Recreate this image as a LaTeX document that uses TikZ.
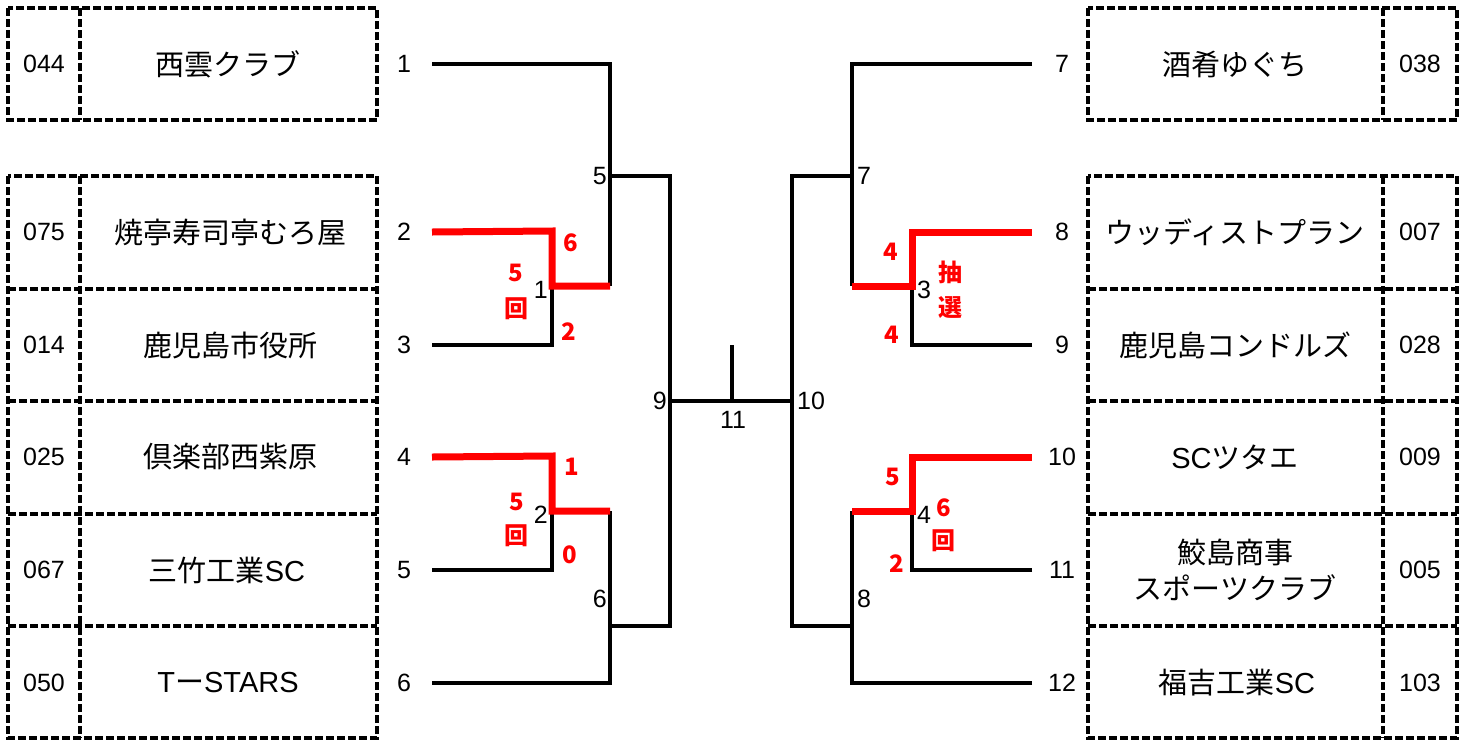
\documentclass[tikz,border=0pt]{standalone}
\usepackage{fontspec}
\setmainfont{Liberation Sans}
\newfontfamily\jp{Noto Sans CJK JP}
\definecolor{winred}{RGB}{255,0,0}
\begin{document}
\begin{tikzpicture}[x=1pt,y=-1pt,
  box/.style={draw, line width=3.1pt, dash pattern=on 8pt off 3pt},
  wire/.style={line width=3.2pt, line join=miter},
  win/.style={line width=7pt, winred, line join=miter},
  teamname/.style={font=\jp\fontsize{29}{34}\selectfont, align=center, inner sep=0pt},
  code/.style={font=\fontsize{25}{28}\selectfont, inner sep=0pt},
  seed/.style={font=\fontsize{25}{28}\selectfont, inner sep=0pt},
  mnum/.style={font=\fontsize{25}{28}\selectfont, inner sep=0pt},
  score/.style={font=\jp\bfseries\fontsize{24}{27}\selectfont, text=winred, inner sep=0pt},
]
\useasboundingbox (0,0) rectangle (1467,740);
% ---------- left boxes ----------
\draw[box] (8,8) rectangle (377,120) (80,8) -- (80,120);
\draw[box] (8,176) rectangle (377,738) (80,176) -- (80,738)
  (8,289) -- (377,289) (8,401) -- (377,401) (8,514) -- (377,514) (8,626) -- (377,626);
% ---------- right boxes ----------
\draw[box] (1088,8) rectangle (1457,120) (1383,8) -- (1383,120);
\draw[box] (1088,176) rectangle (1457,738) (1383,176) -- (1383,738)
  (1088,289) -- (1457,289) (1088,401) -- (1457,401) (1088,514) -- (1457,514) (1088,626) -- (1457,626);
% ---------- left texts ----------
\node[code] (c1) at (44,64) {044};
\node[code] (c2) at (44,232) {075};
\node[code] (c3) at (44,345) {014};
\node[code] (c4) at (44,457) {025};
\node[code] (c5) at (44,570) {067};
\node[code] (c6) at (44,683) {050};
\node[teamname] (t1) at (228,64) {西雲クラブ};
\node[teamname] (t2) at (230,232) {焼亭寿司亭むろ屋};
\node[teamname] (t3) at (230,345) {鹿児島市役所};
\node[teamname] (t4) at (230,457) {倶楽部西紫原};
\node[teamname] (t5) at (227,570) {三竹工業{\rmfamily SC}};
\node[teamname] (t6) at (228,683) {{\rmfamily T}ー{\rmfamily STARS}};
\node[seed] (s1) at (404,64) {1};
\node[seed] (s2) at (404,232) {2};
\node[seed] (s3) at (404,345) {3};
\node[seed] (s4) at (404,457) {4};
\node[seed] (s5) at (404,570) {5};
\node[seed] (s6) at (404,683) {6};
% ---------- right texts ----------
\node[code] (c7) at (1420,64) {038};
\node[code] (c8) at (1420,232) {007};
\node[code] (c9) at (1420,345) {028};
\node[code] (c10) at (1420,457) {009};
\node[code] (c11) at (1420,570) {005};
\node[code] (c12) at (1420,683) {103};
\node[teamname] (t7) at (1235,64) {酒肴ゆぐち};
\node[teamname] (t8) at (1235,232) {ウッディストプラン};
\node[teamname] (t9) at (1235,345) {鹿児島コンドルズ};
\node[teamname] (t10) at (1235,457) {{\rmfamily SC}ツタエ};
\node[teamname, font=\jp\fontsize{29}{36}\selectfont] (t11) at (1235,570) {鮫島商事\\スポーツクラブ};
\node[teamname] (t12) at (1237,683) {福吉工業{\rmfamily SC}};
\node[seed] (s7) at (1062,64) {7};
\node[seed] (s8) at (1062,232) {8};
\node[seed] (s9) at (1062,345) {9};
\node[seed] (s10) at (1062,457) {10};
\node[seed] (s11) at (1062,570) {11};
\node[seed] (s12) at (1062,683) {12};
% ---------- bracket coordinates ----------
\coordinate (L1) at (432,64);
\coordinate (L2) at (432,232);
\coordinate (L3) at (432,345);
\coordinate (L4) at (432,457);
\coordinate (L5) at (432,570);
\coordinate (L6) at (432,683);
\coordinate (R7) at (1032,64);
\coordinate (R8) at (1032,232);
\coordinate (R9) at (1032,345);
\coordinate (R10) at (1032,457);
\coordinate (R11) at (1032,570);
\coordinate (R12) at (1032,683);
\coordinate (m1) at (552,286);
\coordinate (m2) at (552,511);
\coordinate (m3) at (912,286);
\coordinate (m4) at (912,511);
\coordinate (m5) at (610,176);
\coordinate (m6) at (610,626);
\coordinate (m7) at (852,176);
\coordinate (m8) at (852,626);
\coordinate (m9) at (670,401);
\coordinate (m10) at (792,401);
\coordinate (m11) at (732,401);
\coordinate (top11) at (732,345);
% ---------- left bracket ----------
\draw[wire] (L3) -| (m1);
\draw[wire] (L1) -| (610,286);
\draw[wire] (L5) -| (m2);
\draw[wire] (L6) -| (610,511);
\draw[wire] (m5) -- (670,176) -- (670,626) -- (m6);
\draw[wire] (m9) -- (m10);
\draw[wire] (m11) -- (top11);
\draw[wire] (m7) -- (792,176) -- (792,626) -- (m8);
% ---------- right bracket ----------
\draw[wire] (R7) -| (852,286);
\draw[wire] (R9) -| (m3);
\draw[wire] (R12) -| (852,511);
\draw[wire] (R11) -| (m4);
% ---------- winners ----------
\draw[win] (L2) -- (552,231) -- (552,286) -- (610,286);
\draw[win] (L4) -- (552,456) -- (552,511) -- (610,511);
\draw[win] (852,286) -- (m3) -- (912,232) -- (R8);
\draw[win] (852,511) -- (m4) -- (912,457) -- (R10);
% ---------- match numbers ----------
\node[mnum, anchor=east] (n5) at (607,176) {5};
\node[mnum, anchor=east] (n1) at (548,290) {1};
\node[mnum, anchor=east] (n2) at (548,515) {2};
\node[mnum, anchor=east] (n6) at (607,599) {6};
\node[mnum, anchor=east] (n9) at (667,401) {9};
\node[mnum] (n11) at (733,420) {11};
\node[mnum, anchor=west] (n10) at (797,401) {10};
\node[mnum, anchor=west] (n7) at (857,176) {7};
\node[mnum, anchor=west] (n3) at (917,290) {3};
\node[mnum, anchor=west] (n4) at (917,515) {4};
\node[mnum, anchor=west] (n8) at (857,599) {8};
% ---------- scores ----------
\node[score] (a1) at (571,243) {6};
\node[score] (a2) at (569,332) {2};
\node[score] (a3) at (516,273) {5};
\node[score] (a4) at (516,309) {回};
\node[score] (b1) at (572,467) {1};
\node[score] (b2) at (570,555) {0};
\node[score] (b3) at (517,502) {5};
\node[score] (b4) at (516,536) {回};
\node[score] (c1s) at (891,252) {4};
\node[score] (c2s) at (892,335) {4};
\node[score] (c3s) at (950,272) {抽};
\node[score] (c4s) at (950,308) {選};
\node[score] (d1) at (893,477) {5};
\node[score] (d2) at (897,564) {2};
\node[score] (d3) at (944,508) {6};
\node[score] (d4) at (943,541) {回};
\end{tikzpicture}
\end{document}
